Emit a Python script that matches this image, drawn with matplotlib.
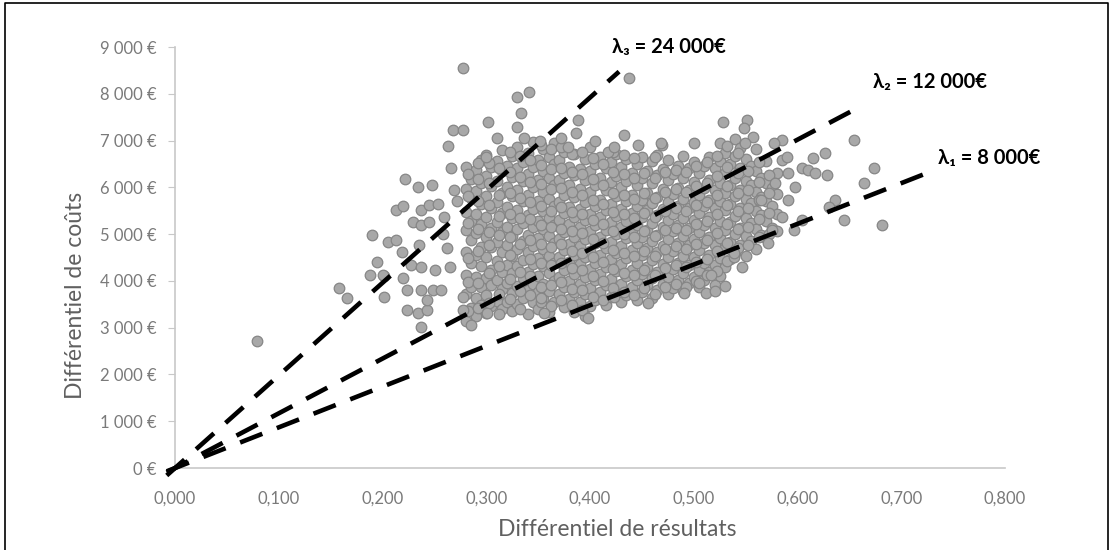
#!/usr/bin/env python3
"""
Nuage coût-efficacité avec droites de seuil (lambda)
"""

import matplotlib
matplotlib.use('Agg')
import matplotlib.pyplot as plt
from matplotlib.lines import Line2D
from matplotlib.ticker import FuncFormatter

plt.rcParams['font.family'] = ['Lato', 'DejaVu Sans']

# ---------- données ----------
# coeur du nuage : (x, [y ...]) par colonne
core_columns = [
    (0.280, [3150, 3720, 4130, 4610, 5080, 5470, 5960, 6430]),
    (0.285, [3420, 3880, 4390, 4870, 5290, 5770, 6180]),
    (0.290, [3260, 3630, 4080, 4560, 5020, 5430, 5920, 6370]),
    (0.295, [3490, 3870, 4310, 4730, 5210, 5640, 6090, 6580]),
    (0.300, [3310, 3690, 4060, 4520, 4930, 5360, 5810, 6240, 6690]),
    (0.305, [3470, 3910, 4240, 4720, 5140, 5560, 6020, 6440]),
    (0.310, [3580, 4010, 4420, 4830, 5270, 5690, 6140, 6560]),
    (0.315, [3390, 3820, 4190, 4610, 5040, 5460, 5880, 6360, 6790]),
    (0.320, [3560, 3960, 4340, 4770, 5160, 5590, 6010, 6460]),
    (0.325, [3360, 3740, 4160, 4540, 4960, 5340, 5810, 6230, 6660]),
    (0.330, [3510, 3890, 4310, 4690, 5110, 5520, 5940, 6410, 6870]),
    (0.335, [3640, 4060, 4440, 4860, 5240, 5710, 6130, 6540]),
    (0.340, [3290, 3810, 4190, 4610, 4990, 5410, 5840, 6290, 6740]),
    (0.345, [3560, 3940, 4370, 4740, 5160, 5540, 6010, 6440, 6960]),
    (0.350, [3390, 3760, 4110, 4490, 4910, 5290, 5710, 6160, 6590]),
    (0.355, [3610, 3940, 4320, 4690, 5110, 5490, 5910, 6340, 6810]),
    (0.360, [3340, 3790, 4160, 4540, 4960, 5340, 5760, 6190, 6640]),
    (0.365, [3560, 3990, 4390, 4810, 5190, 5610, 6040, 6510, 6940]),
    (0.370, [3710, 4090, 4510, 4890, 5310, 5690, 6160, 6590]),
    (0.375, [3440, 3860, 4240, 4660, 5040, 5460, 5840, 6310, 6760]),
    (0.380, [3610, 3990, 4410, 4790, 5210, 5590, 6060, 6440]),
    (0.385, [3340, 3760, 4140, 4560, 4940, 5360, 5790, 6260, 6710]),
    (0.390, [3560, 3940, 4360, 4740, 5160, 5540, 5960, 6390]),
    (0.395, [3240, 3710, 4090, 4510, 4890, 5310, 5690, 6160, 6610]),
    (0.400, [3460, 3840, 4260, 4640, 5060, 5440, 5910, 6340, 6860]),
    (0.405, [3590, 4010, 4390, 4810, 5190, 5610, 6040, 6510]),
    (0.410, [3760, 4140, 4560, 4940, 5360, 5740, 6210, 6640]),
    (0.415, [3490, 3910, 4290, 4710, 5090, 5510, 5940, 6410]),
    (0.420, [3660, 4040, 4460, 4840, 5260, 5640, 6110, 6540]),
    (0.425, [3790, 4210, 4590, 5010, 5390, 5810, 6240, 6710]),
    (0.430, [3560, 3940, 4360, 4740, 5160, 5540, 6010, 6440]),
    (0.435, [3690, 4110, 4490, 4910, 5290, 5710, 6140, 6610]),
    (0.440, [3860, 4240, 4660, 5040, 5460, 5840, 6310]),
    (0.445, [3590, 4010, 4390, 4810, 5190, 5610, 6040, 6510]),
    (0.450, [3760, 4140, 4560, 4940, 5360, 5740, 6210, 6640]),
    (0.455, [3910, 4290, 4710, 5090, 5510, 5890, 6360]),
    (0.460, [3640, 4060, 4440, 4860, 5240, 5660, 6090, 6560]),
    (0.465, [3810, 4190, 4610, 4990, 5410, 5790, 6260, 6690]),
    (0.470, [3940, 4360, 4740, 5160, 5540, 5960, 6390]),
    (0.475, [3710, 4090, 4510, 4890, 5310, 5690, 6160, 6590]),
    (0.480, [3840, 4260, 4640, 5060, 5440, 5860, 6290]),
    (0.485, [4010, 4390, 4810, 5190, 5610, 5990, 6460]),
    (0.490, [3790, 4160, 4540, 4960, 5340, 5760, 6190, 6660]),
    (0.495, [3960, 4340, 4760, 5140, 5560, 5940, 6410]),
    (0.500, [4090, 4510, 4890, 5310, 5690, 6110, 6540]),
    (0.505, [3860, 4240, 4660, 5040, 5460, 5840, 6310]),
    (0.510, [4010, 4390, 4810, 5190, 5610, 5990, 6460]),
    (0.515, [4190, 4560, 4940, 5360, 5740, 6160, 6640]),
    (0.520, [3910, 4340, 4760, 5140, 5560, 5940, 6410]),
    (0.525, [4110, 4490, 4910, 5290, 5710, 6090, 6560, 6940]),
    (0.530, [4290, 4710, 5090, 5510, 5890, 6310, 6740]),
    (0.535, [4460, 4840, 5260, 5640, 6060, 6490]),
    (0.540, [4590, 5010, 5390, 5810, 6190, 6660, 7040]),
    (0.545, [4760, 5140, 5560, 5940, 6410, 6840]),
    (0.550, [4540, 4960, 5340, 5760, 6140, 6610]),
    (0.555, [4860, 5240, 5660, 6040, 6460]),
    (0.560, [4690, 5110, 5490, 5910, 6340, 6810]),
    (0.565, [4990, 5410, 5790, 6210]),
    (0.570, [4910, 5290, 5710, 6090, 6560]),
    (0.575, [5140, 5610, 5990]),
    (0.580, [5060, 5440, 5860, 6310]),
]

# seconde couche du coeur (points intercalés)
core_columns_b = [
    (0.2825, [3350, 3980, 4480, 5230, 5810, 6280]),
    (0.2925, [3420, 3950, 4640, 5120, 5700, 6180, 6520]),
    (0.3025, [3520, 4180, 4760, 5040, 5630, 6090, 6520]),
    (0.3125, [3300, 3730, 4320, 4980, 5390, 5830, 6420]),
    (0.3225, [3620, 4050, 4560, 4940, 5420, 5880, 6320, 6750]),
    (0.3325, [3410, 3780, 4200, 4780, 5350, 5780, 6230, 6660]),
    (0.3425, [3690, 4110, 4460, 4880, 5330, 5690, 6120, 6580]),
    (0.3525, [3540, 3870, 4380, 4800, 5190, 5600, 6070, 6480, 6900]),
    (0.3625, [3460, 3920, 4330, 4720, 5150, 5490, 5960, 6390, 6810]),
    (0.3725, [3590, 3980, 4380, 4780, 5120, 5570, 5980, 6420, 6860]),
    (0.3825, [3480, 3830, 4270, 4650, 5060, 5480, 5910, 6330, 6720]),
    (0.3925, [3380, 3800, 4230, 4600, 5020, 5420, 5840, 6280, 6760]),
    (0.4025, [3650, 4110, 4520, 4900, 5310, 5740, 6170, 6620]),
    (0.4125, [3600, 3990, 4400, 4810, 5220, 5640, 6050, 6500]),
    (0.4225, [3850, 4260, 4670, 5070, 5480, 5890, 6330, 6760]),
    (0.4325, [3760, 4180, 4590, 5000, 5420, 5830, 6280, 6700]),
    (0.4425, [3700, 4120, 4530, 4940, 5350, 5760, 6190, 6620]),
    (0.4525, [3850, 4240, 4650, 5060, 5460, 5870, 6310]),
    (0.4625, [3720, 4130, 4540, 4950, 5370, 5780, 6200, 6640]),
    (0.4725, [3880, 4270, 4680, 5080, 5490, 5900, 6330]),
    (0.4825, [3930, 4330, 4740, 5140, 5550, 5960, 6380]),
    (0.4925, [3870, 4290, 4690, 5090, 5500, 5900, 6320]),
    (0.5025, [3990, 4400, 4800, 5210, 5620, 6030, 6450]),
    (0.5125, [4120, 4470, 4880, 5290, 5690, 6090, 6550]),
    (0.5225, [4220, 4630, 5030, 5430, 5840, 6240, 6680]),
    (0.5325, [4420, 4820, 5220, 5630, 6030, 6440, 6880]),
    (0.5425, [4700, 5100, 5490, 5880, 6300, 6740]),
    (0.5525, [4760, 5150, 5560, 5950, 6360]),
    (0.5625, [4930, 5330, 5720, 6120, 6550]),
    (0.5725, [5000, 5460, 5870, 6270]),
]

# points isolés autour du nuage
outlier_x = [0.079, 0.158, 0.166, 0.188, 0.201, 0.190, 0.205, 0.213, 0.195, 0.200,
             0.201, 0.220, 0.219, 0.222, 0.234, 0.248, 0.269, 0.213, 0.220, 0.237,
             0.245, 0.253, 0.229, 0.237, 0.245, 0.259, 0.235, 0.227, 0.237, 0.251,
             0.224, 0.237, 0.249, 0.256, 0.224, 0.234, 0.243, 0.237, 0.243, 0.263,
             0.266, 0.268, 0.278, 0.278, 0.278, 0.285, 0.262, 0.258, 0.265, 0.272,
             0.278, 0.330, 0.341, 0.333, 0.302, 0.330, 0.388, 0.386, 0.336, 0.438,
             0.433, 0.446, 0.469, 0.300, 0.379, 0.417, 0.423, 0.398, 0.356, 0.301,
             0.456, 0.491, 0.512, 0.423, 0.353, 0.528, 0.551, 0.548, 0.557, 0.549,
             0.585, 0.577, 0.654, 0.626, 0.615, 0.674, 0.664, 0.645, 0.681, 0.636,
             0.630, 0.604, 0.610, 0.617, 0.628, 0.591, 0.585, 0.578, 0.591, 0.585,
             0.575, 0.572, 0.539, 0.546, 0.517, 0.604, 0.597, 0.565, 0.539, 0.598,
             0.590, 0.530, 0.520, 0.505, 0.310, 0.352, 0.372, 0.405, 0.468, 0.500]
outlier_y = [2710, 3850, 3630, 4120, 4110, 4980, 4830, 4870, 4400, 4120,
             3650, 4060, 4620, 6170, 6010, 6060, 5940, 5510, 5600, 5510,
             5620, 5640, 5260, 5190, 5260, 5360, 4760, 4340, 4300, 4230,
             3800, 3800, 3800, 3800, 3380, 3310, 3380, 3020, 3590, 6880,
             6410, 7220, 7230, 3650, 3380, 3060, 4700, 5000, 4300, 5700,
             8550, 7930, 8030, 7590, 7390, 7290, 7440, 7160, 7050, 8330,
             7120, 6900, 6900, 6650, 6860, 6750, 6860, 3200, 3310, 3310,
             3520, 3740, 3740, 3650, 3630, 7390, 7440, 7260, 7070, 6940,
             7010, 6940, 7010, 6730, 6620, 6410, 6090, 5300, 5190, 5730,
             5580, 6410, 6370, 6300, 6260, 6300, 6580, 6090, 5730, 5360,
             5090, 4810, 4510, 4300, 4120, 5300, 5090, 5730, 4590, 6000,
             6650, 3900, 3780, 3950, 7050, 7000, 7050, 7000, 6950, 6950]

# droites de seuil : pente (€ par unité de résultat) et abscisse de fin
lambda_labels = ['λ₃ = 24 000€', 'λ₂ = 12 000€', 'λ₁ = 8 000€']
lambda_slopes = [19800, 11700, 8700]
lambda_x_end = [0.428, 0.657, 0.731]
label_pos = [(0.421, 8990), (0.673, 8250), (0.735, 6620)]

x_ticks = [0.0, 0.1, 0.2, 0.3, 0.4, 0.5, 0.6, 0.7, 0.8]
y_ticks = [0, 1000, 2000, 3000, 4000, 5000, 6000, 7000, 8000, 9000]


def main():
    fig = plt.figure(figsize=(11.12, 5.5), dpi=100)
    ax = fig.add_axes([0.1574, 0.149, 0.7464, 0.7655])

    xs, ys = [], []
    for cx, col in core_columns + core_columns_b:
        for y in col:
            xs.append(cx)
            ys.append(y)
    xs += outlier_x
    ys += outlier_y

    ax.scatter(xs, ys, s=58, facecolor='#a8a8a8', edgecolor='#868686',
               linewidth=0.9, zorder=2)

    # droites en tirets partant de l'origine
    for slope, xe in zip(lambda_slopes, lambda_x_end):
        x0 = -0.008
        ax.plot([x0, xe], [slope * x0, slope * xe], color='black', lw=3.3,
                linestyle=(0, (5.2, 3.4)), zorder=3, clip_on=False)

    for lab, (lx, ly) in zip(lambda_labels, label_pos):
        ax.text(lx, ly, lab, fontsize=14.5, fontweight='bold', ha='left',
                va='center', color='black', family=['Lato', 'DejaVu Sans'])

    ax.set_xlim(0, 0.8)
    ax.set_ylim(0, 9000)
    ax.set_xticks(x_ticks)
    ax.set_yticks(y_ticks)
    ax.xaxis.set_major_formatter(FuncFormatter(lambda v, p: f"{v:.3f}".replace('.', ',')))
    ax.yaxis.set_major_formatter(FuncFormatter(lambda v, p: f"{int(v):,} €".replace(',', ' ')))

    for side in ['top', 'right']:
        ax.spines[side].set_visible(False)
    for side in ['left', 'bottom']:
        ax.spines[side].set_color('#c8c8c8')
        ax.spines[side].set_linewidth(1.2)

    ax.tick_params(axis='y', length=5, color='#c8c8c8', labelsize=12,
                   labelcolor='#7a7a7a', pad=8)
    ax.tick_params(axis='x', length=0, labelsize=12, labelcolor='#7a7a7a', pad=16)

    # titres d'axes
    fig.text(617.5 / 1112, 1 - 530 / 550, 'Différentiel de résultats', fontsize=16.5,
             color='#606060', ha='center', va='center')
    fig.text(76 / 1112, 1 - 295 / 550, 'Différentiel de coûts', fontsize=16.5,
             color='#606060', ha='center', va='center', rotation=90)

    # cadre noir autour de la figure
    W, H = 1112, 550
    fx = [5 / W, 5 / W, 1108 / W, 1108 / W]
    fy = [0, 1 - 3 / H, 1 - 3 / H, 0]
    fig.add_artist(Line2D(fx, fy, color='black', lw=1.2, transform=fig.transFigure))

    fig.savefig('out.png', dpi=100)


if __name__ == "__main__":
    main()
